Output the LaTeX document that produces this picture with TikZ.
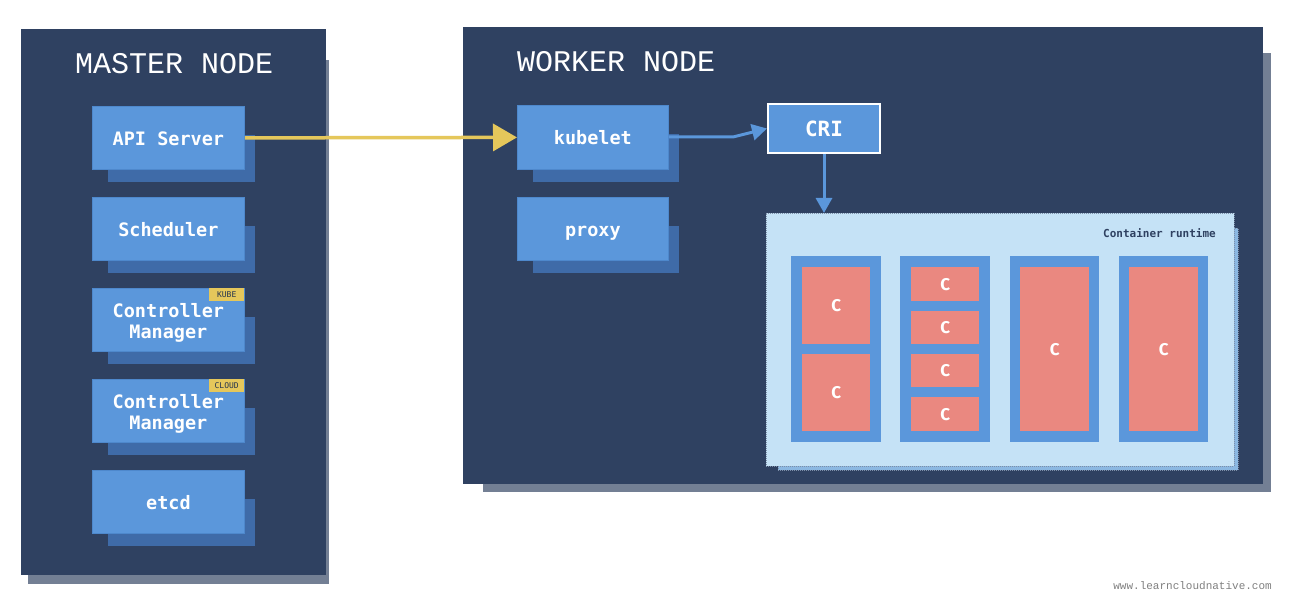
\documentclass[tikz,border=0pt]{standalone}
\usepackage{fontspec}
\usetikzlibrary{arrows.meta}
\newfontfamily\titlefont{Liberation Mono}
\newfontfamily\labfont{DejaVu Sans Mono}
\newfontfamily\cfont{Fira Sans}
\definecolor{navy}{HTML}{2F4161}
\definecolor{nodeshadow}{HTML}{737F94}
\definecolor{boxblue}{HTML}{5B97DB}
\definecolor{boxedge}{HTML}{4E88CC}
\definecolor{boxshadow}{HTML}{3F6BA8}
\definecolor{kyellow}{HTML}{E5C75B}
\definecolor{rtblue}{HTML}{C5E2F6}
\definecolor{rtshadow}{HTML}{8CB8E2}
\definecolor{rtedge}{HTML}{7D8FA8}
\definecolor{cred}{HTML}{EA8880}
\definecolor{wmgray}{HTML}{808080}
\tikzset{
  nodebg/.style={fill=navy, draw=none},
  nodeshd/.style={fill=nodeshadow, draw=none},
  compbox/.style={fill=boxblue, draw=boxedge, line width=0.8pt, anchor=north west,
    inner sep=0pt},
  complab/.style={inner sep=0pt, text=white, align=center,
    text height=13.5pt, text depth=0pt, yshift=-0.5pt,
    font=\labfont\bfseries\fontsize{18.5}{21}\selectfont},
  twoline/.style={text height=34.5pt, yshift=-1pt},
  compshd/.style={fill=boxshadow, draw=none},
  ttl/.style={text=white, font=\titlefont\fontsize{30}{30}\selectfont, anchor=base west, inner sep=0pt},
  tag/.style={fill=kyellow, draw=none, anchor=north west, inner sep=0pt,
    minimum width=35pt, minimum height=13pt, text=navy!80!black,
    font=\labfont\fontsize{8}{8}\selectfont},
  pod/.style={fill=boxblue, draw=none, anchor=north west, inner sep=0pt},
  ctr/.style={fill=cred, draw=none, anchor=north west, inner sep=0pt, text=white,
    font=\cfont\bfseries\fontsize{17}{17}\selectfont},
  yarrow/.style={draw=kyellow, line width=3.5pt, -{Triangle[length=24pt,width=27pt]}},
  barrow/.style={draw=boxblue, line width=3pt, -{Triangle[length=15pt,width=16pt]}},
}
\begin{document}
\begin{tikzpicture}[x=1pt,y=-1pt]
\useasboundingbox[fill=white] (0,0) rectangle (1298,612);
% master node
\fill[nodeshd] (28,60) rectangle (329,584);
\fill[nodebg] (21,29) rectangle (326,575);
\node[ttl] (mtitle) at (75,74) {MASTER\ NODE};
% worker node
\fill[nodeshd] (483,53) rectangle (1271,492);
\fill[nodebg] (463,27) rectangle (1263,484);
\node[ttl] (wtitle) at (517,72) {WORKER\ NODE};
% component boxes
\newcommand\compitem[7]{%
  \fill[compshd] (#2+16,#3+29) rectangle (#4+11,#5+13);
  \node[compbox, minimum width=#4-#2, minimum height=#5-#3] (#1) at (#2,#3) {};
  \node[complab, #7] (#1-t) at (#1.center) {#6};}
\compitem{api}{92}{106}{244}{169}{API Server}{}
\compitem{sched}{92}{197}{244}{260}{Scheduler}{}
\compitem{kcm}{92}{288}{244}{351}{Controller\\Manager}{twoline}
\compitem{ccm}{92}{379}{244}{442}{Controller\\Manager}{twoline}
\compitem{etcd}{92}{470}{244}{533}{etcd}{}
\compitem{kubelet}{517}{105}{668}{169}{kubelet}{}
\compitem{proxy}{517}{197}{668}{260}{proxy}{}
\node[tag] (kubetag) at (209,288) {KUBE};
\node[tag] (cloudtag) at (209,379) {CLOUD};
% CRI
\node[compbox, draw=white, line width=2pt, minimum width=112pt, minimum height=49pt] (cri) at (767,103) {};
\node[complab, text height=15pt, font=\labfont\bfseries\fontsize{21}{21}\selectfont] (cri-t) at (cri.center) {CRI};
% container runtime
\fill[rtshadow] (778,228) rectangle (1238,470);
\draw[rtedge, line width=0.6pt, dash pattern=on 1pt off 1pt] (778,228) rectangle (1238,470);
\node[fill=rtblue, draw=rtedge, line width=0.6pt, dash pattern=on 1pt off 1pt,
  anchor=north west, inner sep=0pt, minimum width=468pt, minimum height=253pt] (rt) at (766,213) {};
\node[anchor=base east, inner sep=0pt, text=navy, font=\labfont\bfseries\fontsize{11}{11}\selectfont]
  (rtlabel) at (1216,238) {Container runtime};
% pods
\node[pod, minimum width=90pt, minimum height=186pt] (pod1) at (791,256) {};
\node[pod, minimum width=90pt, minimum height=186pt] (pod2) at (900,256) {};
\node[pod, minimum width=89pt, minimum height=186pt] (pod3) at (1010,256) {};
\node[pod, minimum width=89pt, minimum height=186pt] (pod4) at (1119,256) {};
% containers
\node[ctr, minimum width=68pt, minimum height=77pt] (c11) at (802,267) {C};
\node[ctr, minimum width=68pt, minimum height=77pt] (c12) at (802,354) {C};
\node[ctr, minimum width=68pt, minimum height=34pt] (c21) at (911,267) {C};
\node[ctr, minimum width=68pt, minimum height=33pt] (c22) at (911,311) {C};
\node[ctr, minimum width=68pt, minimum height=33pt] (c23) at (911,354) {C};
\node[ctr, minimum width=68pt, minimum height=34pt] (c24) at (911,397) {C};
\node[ctr, minimum width=69pt, minimum height=164pt] (c3) at (1020,267) {C};
\node[ctr, minimum width=69pt, minimum height=164pt] (c4) at (1129,267) {C};
% arrows
\draw[yarrow] (api.east) -- (kubelet.west);
\coordinate (bend) at (733,137);
\draw[barrow] (kubelet.east |- bend) -- (bend) -- (cri.west);
\draw[barrow] (cri.south) -- (cri.south |- rt.north);
% watermark
\node[anchor=base east, inner sep=0pt, text=wmgray, font=\titlefont\fontsize{11}{11}\selectfont]
  (wm) at (1272,589) {www.learncloudnative.com};
\end{tikzpicture}
\end{document}
